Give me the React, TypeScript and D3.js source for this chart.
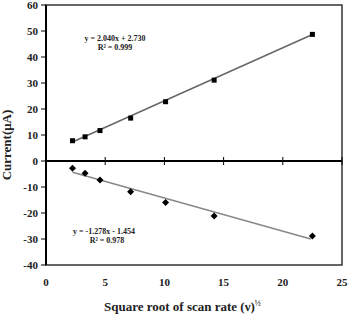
import React from "react";
import * as d3 from "d3";

const xValues = [2.24, 3.3, 4.56, 7.15, 10.1, 14.2, 22.5];
const anodic = [7.8, 9.3, 11.7, 16.5, 22.8, 31.1, 48.7];
const cathodic = [-2.8, -4.7, -7.3, -11.8, -16.0, -21.2, -28.8];
const fitX = [2.24, 22.36];
const anodicFit = { slope: 2.04, intercept: 2.73 };
const cathodicFit = { slope: -1.278, intercept: -1.454 };
const xTicks = [0, 5, 10, 15, 20, 25];
const yTicks = [-40, -30, -20, -10, 0, 10, 20, 30, 40, 50, 60];

export default function App() {
  const W = 350, H = 317;
  const left = 46, right = 342, top = 5, bottom = 265;
  const x = d3.scaleLinear().domain([0, 25]).range([left, right]);
  const y = d3.scaleLinear().domain([-40, 60]).range([bottom, top]);
  const font = "'Liberation Serif', 'Times New Roman', serif";
  const upFit = d3
    .line<number>()
    .x((d) => x(d))
    .y((d) => y(anodicFit.slope * d + anodicFit.intercept));
  const downFit = d3
    .line<number>()
    .x((d) => x(d))
    .y((d) => y(cathodicFit.slope * d + cathodicFit.intercept));
  return (
    <svg width={W} height={H} style={{ position: "absolute", left: 0, top: 0, background: "#fff" }}>
      <rect x={left} y={top} width={right - left} height={bottom - top} fill="none" stroke="#333" strokeWidth={1.5} />
      <line x1={left} x2={left} y1={top} y2={bottom} stroke="#000" strokeWidth={2} />
      <line x1={left} x2={right} y1={y(0)} y2={y(0)} stroke="#000" strokeWidth={2} />
      {yTicks.map((t) => (
        <g key={"y" + t}>
          <line x1={left - 5} x2={left} y1={y(t)} y2={y(t)} stroke="#000" strokeWidth={1} />
          <text x={left - 8} y={y(t) + 4} textAnchor="end" fontFamily={font} fontWeight="bold" fontSize={11} fill="#222">
            {t}
          </text>
        </g>
      ))}
      {xTicks.map((t) => (
        <g key={"x" + t}>
          <line x1={x(t)} x2={x(t)} y1={y(0) - 4} y2={y(0) + 4} stroke="#000" strokeWidth={1} />
          <text x={x(t)} y={bottom + 21} textAnchor="middle" fontFamily={font} fontWeight="bold" fontSize={11} fill="#222">
            {t}
          </text>
        </g>
      ))}
      <path d={upFit(fitX) || ""} stroke="#666" strokeWidth={1.5} fill="none" />
      <path d={downFit(fitX) || ""} stroke="#888" strokeWidth={1.5} fill="none" />
      {xValues.map((v, i) => (
        <rect key={"s" + i} x={x(v) - 2.5} y={y(anodic[i]) - 2.5} width={5} height={5} fill="#000" />
      ))}
      {xValues.map((v, i) => (
        <path
          key={"d" + i}
          d={`M${x(v)},${y(cathodic[i]) - 3.5}L${x(v) + 3.5},${y(cathodic[i])}L${x(v)},${y(cathodic[i]) + 3.5}L${x(v) - 3.5},${y(cathodic[i])}Z`}
          fill="#000"
        />
      ))}
      <text x={115} y={41} textAnchor="middle" fontFamily={font} fontWeight="bold" fontSize={8} fill="#222">
        y = 2.040x + 2.730
      </text>
      <text x={115} y={50} textAnchor="middle" fontFamily={font} fontWeight="bold" fontSize={8} fill="#222">
        R² = 0.999
      </text>
      <text x={104} y={234} textAnchor="middle" fontFamily={font} fontWeight="bold" fontSize={8} fill="#222">
        y = -1.278x - 1.454
      </text>
      <text x={107} y={243} textAnchor="middle" fontFamily={font} fontWeight="bold" fontSize={8} fill="#222">
        R² = 0.978
      </text>
      <text
        transform={`translate(11, 145) rotate(-90)`}
        textAnchor="middle"
        fontFamily={font}
        fontWeight="bold"
        fontSize={13}
        fill="#222"
      >
        Current(μA)
      </text>
      <text x={104} y={311} fontFamily={font} fontWeight="bold" fontSize={13} fill="#222">
        Square root of scan rate (ν)
        <tspan fontSize={8} dy={-5}>½</tspan>
      </text>
    </svg>
  );
}
